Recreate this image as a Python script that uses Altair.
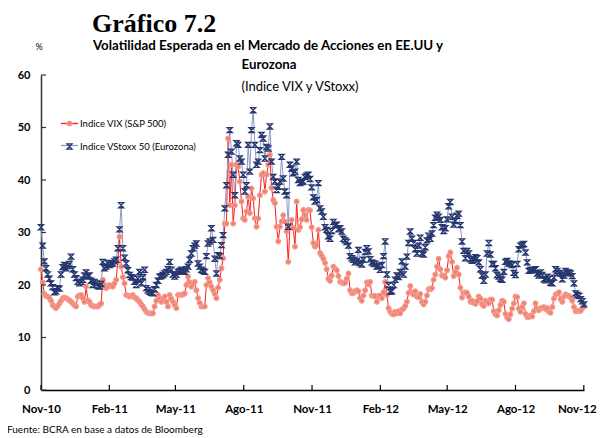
import altair as alt
import pandas as pd

# ---------------- data ----------------
serie_vix = "Indice VIX (S&P 500)"
serie_vstoxx = "Indice VStoxx 50 (Eurozona)"

vstoxx = [
    31.0, 27.5, 24.5, 23.2, 22.0, 21.2, 20.3, 19.6, 18.6, 18.8,
    19.4, 19.3, 22.0, 23.4, 23.8, 23.2, 23.6, 24.0, 25.4, 23.0,
    22.0, 21.3, 20.6, 20.3, 20.6, 21.0, 21.8, 22.4, 21.6, 21.8,
    20.8, 20.0, 20.6, 20.3, 19.8, 19.7, 20.2, 24.4, 23.2, 23.5,
    24.2, 23.8, 24.0, 24.1, 24.5, 24.8, 27.0, 30.6, 35.2, 27.0,
    25.2, 24.1, 22.8, 21.9, 21.5, 21.4, 20.6, 20.0, 21.2, 22.5,
    20.3, 21.5, 22.9, 19.4, 19.0, 18.7, 18.5, 18.4, 19.2, 20.0,
    20.8, 21.6, 21.7, 21.9, 22.2, 22.5, 23.0, 24.4, 22.9, 22.0,
    21.6, 22.0, 22.5, 22.7, 22.9, 22.7, 22.5, 23.0, 23.5, 24.8,
    26.0, 27.0, 27.5, 27.9, 24.1, 23.5, 22.9, 22.7, 22.5, 25.5,
    27.9, 28.3, 30.8, 28.6, 25.0, 22.2, 25.7, 25.5, 27.6, 29.5,
    34.6, 39.0, 44.8, 49.5, 45.4, 41.0, 37.1, 47.0, 46.7, 44.1,
    43.5, 41.0, 37.8, 39.0, 46.7, 41.6, 49.5, 53.3, 46.7, 42.9,
    43.5, 45.7, 48.6, 47.9, 44.1, 46.3, 46.0, 50.2, 43.5, 40.6,
    39.7, 38.1, 38.7, 39.7, 44.4, 40.3, 37.8, 37.1, 31.1, 42.9,
    42.2, 41.3, 41.6, 43.5, 40.0, 39.4, 39.6, 39.7, 40.6, 40.8,
    41.0, 40.2, 38.6, 36.7, 35.9, 36.2, 39.4, 34.6, 34.0, 33.0,
    31.0, 30.5, 29.3, 28.8, 30.3, 32.0, 31.4, 31.5, 30.6, 30.8,
    30.2, 28.8, 28.5, 28.2, 27.5, 25.5, 25.1, 24.8, 24.3, 24.6,
    26.7, 24.2, 23.9, 24.8, 26.3, 27.0, 26.4, 24.9, 24.3, 24.1,
    24.0, 23.5, 23.6, 22.9, 23.8, 25.5, 28.3, 22.0, 20.0, 18.7,
    18.8, 20.0, 21.0, 21.8, 21.5, 22.5, 24.5, 22.0, 23.5, 25.4,
    28.0, 30.2, 28.8, 28.0, 26.8, 26.0, 27.5, 29.0, 26.0, 25.8,
    27.2, 28.5, 29.4, 28.8, 29.8, 31.4, 32.8, 33.4, 33.0, 32.4,
    31.0, 30.3, 30.8, 32.5, 35.0, 35.8, 33.0, 31.5, 32.2, 33.2,
    33.6, 31.4, 28.3, 26.5, 25.1, 26.5, 26.0, 24.9, 24.6, 24.8,
    25.3, 25.1, 24.3, 23.0, 21.8, 20.8, 22.0, 26.0, 28.0, 25.8,
    24.0, 24.0, 23.2, 21.9, 21.6, 21.2, 21.0, 22.5, 24.4, 24.6,
    24.1, 24.0, 23.8, 22.3, 21.9, 24.0, 26.8, 27.5, 27.7, 27.8,
    26.2, 24.3, 22.7, 22.8, 22.9, 22.8, 23.0, 22.2, 21.8, 22.4,
    21.9, 21.1, 20.9, 21.6, 21.2, 20.4, 20.3, 21.4, 23.0, 22.7,
    22.3, 22.2, 21.1, 21.8, 22.7, 22.3, 22.4, 22.2, 21.7, 20.3,
    18.4, 18.1, 17.9, 17.3, 16.9, 16.3,
]

vix = [
    23.0, 20.5, 18.3, 17.9, 17.8, 17.5, 17.0, 16.2, 15.9, 15.6,
    16.0, 16.5, 17.0, 17.5, 17.6, 17.5, 17.3, 17.1, 16.8, 16.5,
    16.2, 15.9, 17.8, 18.0, 18.1, 17.5, 16.8, 19.7, 17.1, 16.8,
    16.2, 16.0, 15.9, 15.9, 15.9, 16.2, 16.5, 21.0, 20.0, 19.4,
    19.7, 20.0, 19.8, 19.7, 20.3, 21.0, 24.5, 29.2, 23.5, 21.5,
    20.3, 18.1, 18.0, 17.8, 17.9, 18.1, 17.6, 17.5, 17.1, 16.8,
    16.3, 15.9, 15.4, 14.9, 14.7, 14.6, 14.6, 14.6, 15.9, 17.0,
    18.1, 17.4, 16.8, 17.3, 17.8, 16.8, 15.9, 18.1, 17.4, 16.8,
    16.2, 15.6, 18.1, 18.1, 18.1, 18.2, 18.4, 20.0, 21.6, 20.5,
    19.7, 20.2, 20.6, 19.0, 17.5, 16.6, 15.9, 15.9, 15.9, 20.0,
    21.3, 20.5, 19.7, 19.0, 18.3, 17.5, 19.5, 21.0, 23.2, 25.1,
    31.7, 31.7, 47.9, 35.2, 42.9, 31.7, 35.2, 42.9, 42.5, 39.7,
    35.9, 32.7, 32.4, 34.0, 36.8, 33.7, 38.4, 36.5, 32.7, 31.1,
    32.7, 37.1, 41.0, 41.3, 37.8, 41.0, 42.9, 44.8, 38.5, 36.2,
    35.6, 31.1, 28.3, 31.1, 32.1, 33.3, 32.1, 30.2, 24.4, 31.1,
    32.4, 30.8, 27.3, 35.9, 30.5, 31.0, 32.5, 34.3, 33.3, 32.4,
    34.3, 34.2, 31.0, 28.0, 27.3, 27.6, 30.5, 26.1, 25.6, 25.0,
    24.2, 23.0, 21.2, 20.8, 21.8, 23.5, 23.1, 22.8, 21.7, 20.6,
    20.5, 20.3, 20.4, 21.2, 22.2, 19.0, 18.4, 18.5, 18.8, 19.0,
    18.8, 17.5, 17.0, 18.0, 19.0, 20.5, 20.1, 20.6, 18.0, 17.9,
    17.9, 16.8, 17.9, 18.0, 17.5, 18.6, 20.6, 18.1, 15.6, 14.9,
    14.5, 14.4, 14.9, 14.6, 15.0, 14.6, 15.3, 15.5, 16.0, 16.8,
    18.5, 19.8, 18.5, 18.2, 18.8, 17.8, 17.7, 18.3, 16.8, 16.3,
    16.8, 18.0, 19.2, 19.2, 19.4, 21.0, 22.0, 23.5, 25.0, 23.0,
    21.8, 21.8, 21.4, 22.8, 25.5, 26.2, 24.4, 21.7, 22.5, 23.3,
    22.0, 19.5, 17.6, 18.5, 18.6, 18.5, 17.8, 16.8, 17.0, 16.6,
    16.4, 16.9, 17.8, 17.4, 16.3, 16.0, 17.0, 16.8, 16.5, 17.2,
    17.2, 15.0, 14.4, 14.2, 15.2, 16.2, 17.0, 16.8, 14.5, 13.8,
    13.5, 14.4, 15.5, 16.5, 17.8, 17.7, 15.5, 14.9, 15.8, 16.5,
    14.5, 13.9, 13.9, 14.2, 14.0, 15.0, 16.5, 15.4, 15.2, 15.6,
    15.6, 15.8, 15.4, 15.6, 14.9, 14.7, 15.8, 17.4, 18.2, 18.3,
    18.6, 17.3, 16.8, 17.8, 18.2, 18.0, 17.9, 17.6, 17.0, 15.8,
    15.0, 15.1, 15.0, 15.1, 15.6, 15.9,
]

# observation dates: one reading every 2.25 days from 1 Nov 2010
fechas = pd.date_range("2010-11-01", periods=len(vix), freq="54h")
fechas_txt = list(fechas.strftime("%Y-%m-%dT%H:%M:%SZ"))

marcas_x = ["2010-11-01", "2011-02-01", "2011-05-01", "2011-08-01",
            "2011-11-01", "2012-02-01", "2012-05-01", "2012-08-01", "2012-11-01"]
marcas_y = [0, 10, 20, 30, 40, 50, 60]
meses = ["Ene", "Feb", "Mar", "Abr", "May", "Jun", "Jul", "Ago", "Sep", "Oct", "Nov", "Dic"]

df = pd.DataFrame({
    "fecha": fechas_txt + fechas_txt,
    "valor": vix + vstoxx,
    "serie": [serie_vix] * len(vix) + [serie_vstoxx] * len(vstoxx),
})
# a separate (space-suffixed) key for the line legend so it is not merged with the marker legend
df["serie_linea"] = df["serie"] + " "

ticks_x = pd.DataFrame({"fecha": [d + "T00:00:00Z" for d in marcas_x]})
ticks_y = pd.DataFrame({"valor": marcas_y})

# ---------------- styling ----------------
W, H = 543, 315
FONT = "Lato"
dominio = [serie_vix, serie_vstoxx]
dominio_linea = [s + " " for s in dominio]

circulo = "M0.28,0L0.198,0.198L0,0.28L-0.198,0.198L-0.28,0L-0.198,-0.198L0,-0.28L0.198,-0.198Z"
reloj = "M-0.3,-0.3L0.3,-0.3L-0.3,0.3L0.3,0.3Z"

label_expr = ("['" + "','".join(meses) + "'][utcmonth(datum.value)] + '-' + utcFormat(datum.value, '%y')")
ultimo = "utcyear(datum.value) == 2012 && utcmonth(datum.value) == 10"

x_enc = alt.X(
    "fecha:T",
    scale=alt.Scale(type="utc", domain=[
        alt.DateTime(year=2010, month=11, date=1, utc=True),
        alt.DateTime(year=2012, month=11, date=1, hours=6, utc=True)]),
    axis=alt.Axis(
        values=[alt.DateTime(year=int(d[:4]), month=int(d[5:7]), date=1, utc=True) for d in marcas_x],
        labelExpr=label_expr, title=None, grid=False, ticks=False,
        labelFont=FONT, labelFontWeight="bold", labelFontSize=11.5, labelColor="black",
        labelPadding=13, labelFlush=False, labelOverlap=False,
        labelOffset={"condition": {"test": ultimo, "value": -7}, "value": 0},
        domainColor="black", domainWidth=1.5),
)
y_enc = alt.Y(
    "valor:Q",
    scale=alt.Scale(domain=[0, 60], nice=False, zero=True),
    axis=alt.Axis(
        values=marcas_y, title=None, grid=False, ticks=False,
        labelFont=FONT, labelFontWeight="bold", labelFontSize=11, labelColor="black",
        labelPadding=11, domainColor="#333333", domainWidth=1.5),
)

leg_common = dict(title=None, orient="none", legendX=19, legendY=39, symbolSize=289,
                  rowPadding=8, labelFont=FONT, labelFontSize=9.5, labelColor="black",
                  labelOffset=1, padding=0)

lineas = alt.Chart(df).mark_line(strokeWidth=1).encode(
    x=x_enc, y=y_enc,
    color=alt.Color("serie_linea:N",
                    scale=alt.Scale(domain=dominio_linea, range=["#ff1a1a", "#8d99c4"]),
                    legend=alt.Legend(symbolType="stroke", symbolStrokeWidth=1.3,
                                      labelOpacity=0, **leg_common)),
)

leg_pts = alt.Legend(symbolStrokeWidth=1.3, symbolOpacity=1, **leg_common)
puntos = alt.Chart(df).mark_point(filled=True, opacity=1, strokeWidth=1.3, size=289).encode(
    x=x_enc, y=y_enc,
    shape=alt.Shape("serie:N", scale=alt.Scale(domain=dominio, range=[circulo, reloj]), legend=leg_pts),
    fill=alt.Fill("serie:N", scale=alt.Scale(domain=dominio, range=["#f07d6e", "transparent"]), legend=leg_pts),
    stroke=alt.Stroke("serie:N", scale=alt.Scale(domain=dominio, range=["#f39a8d", "#26366f"]), legend=leg_pts),
)

tx = alt.Chart(ticks_x).mark_rule(color="black", strokeWidth=1.2).encode(
    x=x_enc, y=alt.value(H), y2=alt.value(H - 5))
ty = alt.Chart(ticks_y).mark_rule(color="#333333", strokeWidth=1.2).encode(
    y=y_enc, x=alt.value(0), x2=alt.value(5))


def texto(t, x, y, size, weight="normal", font=FONT, align="left"):
    return alt.Chart(alt.Data(values=[{}])).mark_text(
        text=t, fontSize=size, fontWeight=weight, font=font, align=align,
        baseline="alphabetic", color="black").encode(x=alt.value(x), y=alt.value(y))


textos = [
    texto("Gráfico 7.2", 51, -43.5, 26, "bold", "Liberation Serif"),
    texto("Volatilidad Esperada en el Mercado de Acciones en EE.UU y", 227, -25, 13.3, "bold", align="center"),
    texto("Eurozona", 228, -6, 13.3, "bold", align="center"),
    texto("(Indice VIX y VStoxx)", 259, 16, 13, align="center"),
    texto("%", -2, -25, 9, align="center"),
    texto("Fuente: BCRA en base a datos de Bloomberg", -34, 358, 10),
]

chart = alt.layer(lineas, puntos, tx, ty, *textos).properties(
    width=W, height=H,
    padding={"left": 33, "top": 67, "right": 13, "bottom": 47},
    autosize=alt.AutoSizeParams(type="none"),
    background="white",
).configure_view(stroke=None)

chart.save("out.html", embed_options={"renderer": "svg", "actions": False})
